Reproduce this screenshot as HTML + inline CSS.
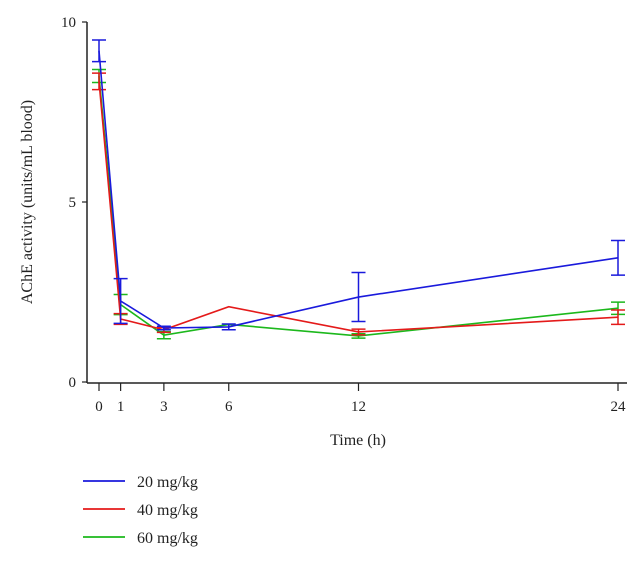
<!DOCTYPE html>
<html><head><meta charset="utf-8"><style>
body{margin:0;background:#fff;}
svg text{font-family:"Liberation Serif",serif;fill:#222;}
</style></head><body>
<svg id="chart" width="643" height="561" xmlns="http://www.w3.org/2000/svg"></svg>
<script>
const times=[0,1,3,6,12,24];
const xTicks=[0,1,3,6,12,24];
const yTicks=[0,5,10];
const seriesNames=["20 mg/kg","40 mg/kg","60 mg/kg"];
const seriesColors=["#1a1adc","#e41a1a","#1cb81c"];
const mean20=[9.2,2.25,1.5,1.53,2.36,3.45];
const err20=[0.3,0.62,0.05,0.08,0.68,0.48];
const mean40=[8.35,1.75,1.45,2.09,1.39,1.8];
const err40=[0.23,0.15,0.07,0,0.08,0.2];
const mean60=[8.5,2.15,1.3,1.6,1.28,2.05];
const err60=[0.18,0.28,0.1,0,0.06,0.17];
const means=[mean20,mean40,mean60];
const errs=[err20,err40,err60];
const NS="http://www.w3.org/2000/svg";
const svg=document.getElementById('chart');
const X0=99,X1=618,Y0=382,Y1=22;
const xs=t=>X0+(X1-X0)*t/24;
const ys=v=>Y0-(Y0-Y1)*v/10;
function mk(tag,a,parent){const e=document.createElementNS(NS,tag);for(const k in a)e.setAttribute(k,a[k]);(parent||svg).appendChild(e);return e;}
let e;
e=mk('line',{x1:87,y1:22,x2:87,y2:383,stroke:'#222','stroke-width':1.5});


e=mk('line',{x1:87,y1:383,x2:627,y2:383,stroke:'#222','stroke-width':1.5});


yTicks.forEach(v=>{
 e=mk('line',{x1:82,y1:ys(v),x2:87,y2:ys(v),stroke:'#222','stroke-width':1.2});
 
 
 e=mk('text',{x:76,y:ys(v)+5,'text-anchor':'end','font-size':15});e.textContent=v;
 
 
});
xTicks.forEach(t=>{
 e=mk('line',{x1:xs(t),y1:383,x2:xs(t),y2:391,stroke:'#222','stroke-width':1.2});
 
 
 e=mk('text',{x:xs(t),y:411,'text-anchor':'middle','font-size':15});e.textContent=t;
 
 
});
e=mk('text',{x:358,y:445,'text-anchor':'middle','font-size':16});e.textContent='Time (h)';


e=mk('text',{x:0,y:0,'text-anchor':'middle','font-size':16,transform:'translate(32,202) rotate(-90)'});e.textContent='AChE activity (units/mL blood)';


[2,1,0].forEach(s=>{
 const g=mk('g',{});
 
 
 const pts=times.map((t,i)=>xs(t)+','+ys(means[s][i])).join(' ');
 e=mk('polyline',{points:pts,fill:'none',stroke:seriesColors[s],'stroke-width':1.6},g);
 
 
 times.forEach((t,i)=>{
  const er=errs[s][i];if(!er)return;
  const x=xs(t),a=ys(means[s][i]+er),b=ys(means[s][i]-er);
  e=mk('path',{d:`M${x},${a}V${b}M${x-7},${a}H${x+7}M${x-7},${b}H${x+7}`,stroke:seriesColors[s],'stroke-width':1.5,fill:'none'},g);
  
  
 });
});
seriesNames.forEach((n,i)=>{
 const y=481+i*28;
 const g=mk('g',{});
 
 
 mk('line',{x1:83,y1:y,x2:125,y2:y,stroke:seriesColors[i],'stroke-width':1.8},g);
 e=mk('text',{x:137,y:y+6,'font-size':16},g);e.textContent=n;
});
</script>
</body></html>
